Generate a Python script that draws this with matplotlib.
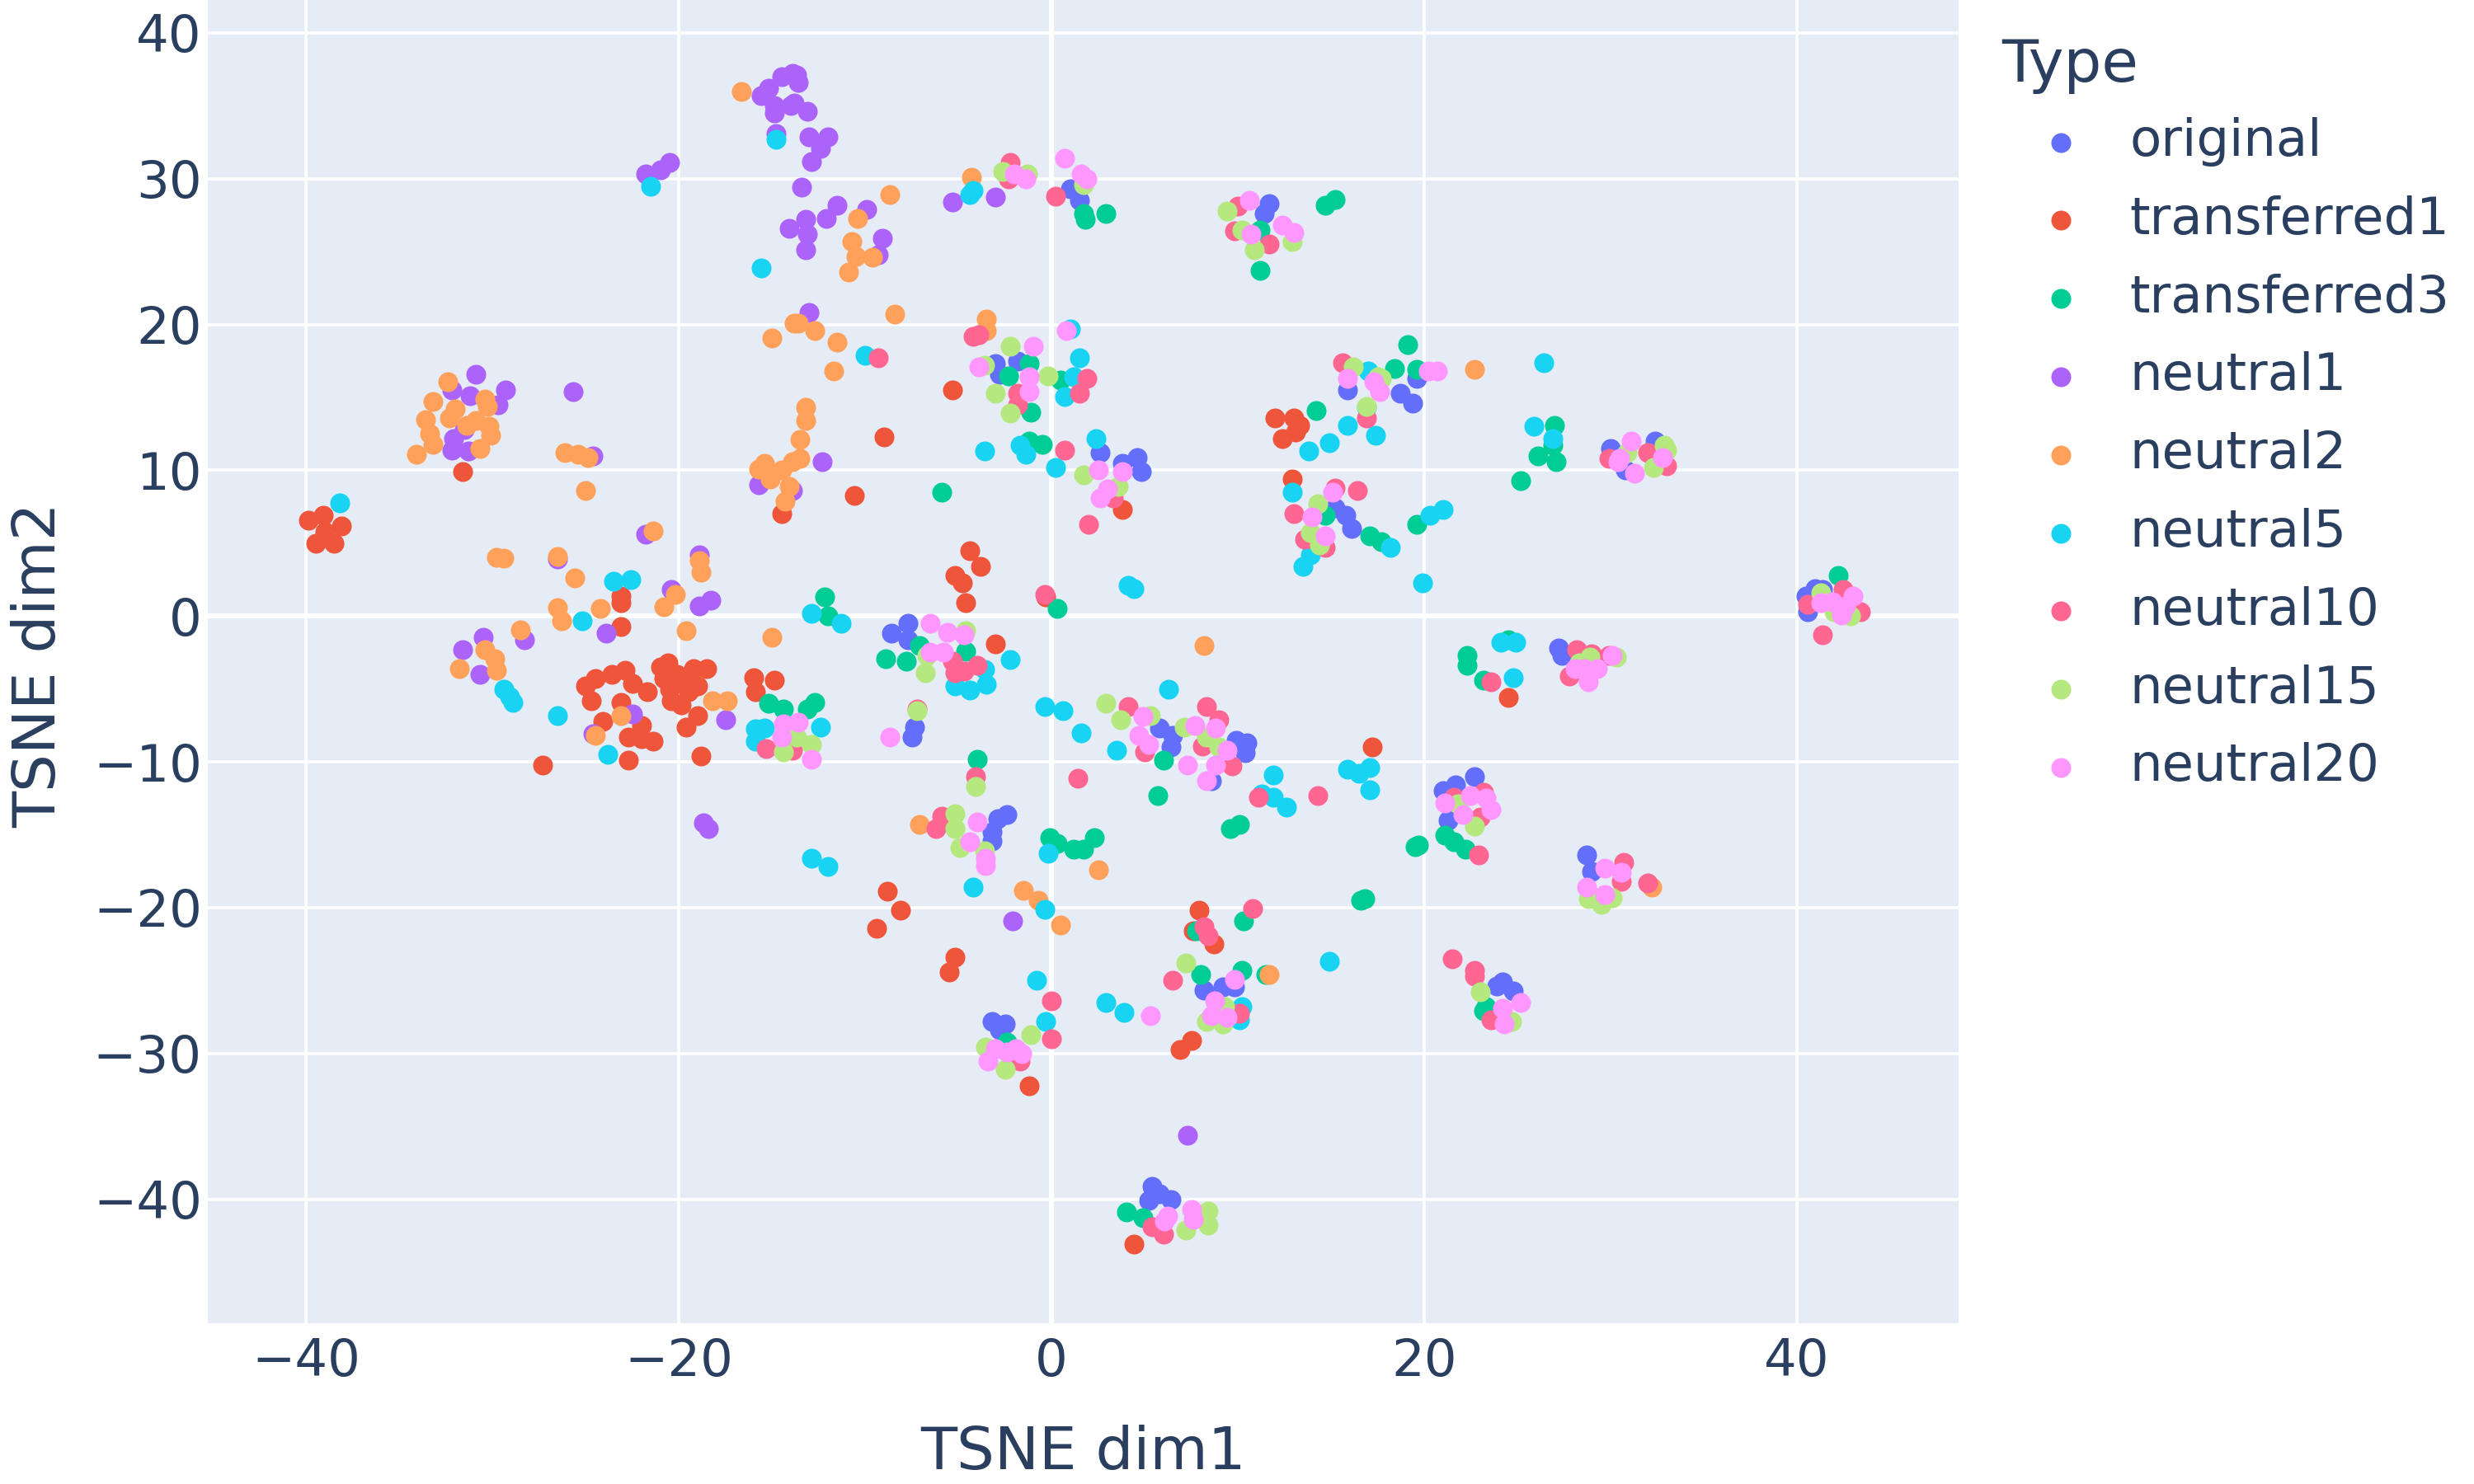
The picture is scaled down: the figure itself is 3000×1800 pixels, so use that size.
import matplotlib
matplotlib.use("Agg")
import matplotlib.pyplot as plt
import numpy as np

plt.rcParams['font.family'] = ['DejaVu Sans']

types = ["original", "transferred1", "transferred3", "neutral1", "neutral2",
         "neutral5", "neutral10", "neutral15", "neutral20"]
colors = ["#636EFA", "#EF553B", "#00CC96", "#AB63FA", "#FFA15A",
          "#19D3F3", "#FF6692", "#B6E880", "#FF97FF"]

original_pts = [
    (1.0, 29.3), (1.5, 28.5), (11.7, 28.3), (11.4, 27.6), (-3.0, 17.3), (-1.8, 17.5), (-2.8, 16.6),
    (15.9, 15.5), (2.6, 11.2), (3.8, 10.5), (4.6, 10.9), (4.8, 9.9), (19.6, 16.3), (18.7, 15.3),
    (19.4, 14.6), (30.0, 11.5), (32.4, 12.0), (30.8, 10.0), (15.2, 7.4), (15.8, 6.9), (16.1, 6.0),
    (-8.6, -1.2), (-7.7, -0.5), (-7.7, -1.6), (-7.35, -7.6), (-7.5, -8.3), (5.8, -7.7), (6.5, -8.2),
    (6.4, -9.0), (9.9, -8.5), (10.5, -8.7), (10.4, -9.4), (8.6, -11.3), (-2.9, -13.9), (-2.4, -13.6),
    (-3.2, -14.8), (-3.2, -15.4), (40.5, 1.4), (41.4, 1.8), (40.6, 0.3), (41.0, 1.9), (27.4, -2.7),
    (27.2, -2.2), (22.7, -11.0), (21.7, -11.6), (21.0, -12.0), (21.3, -14.0), (28.7, -16.4),
    (29.0, -17.5), (23.9, -25.4), (24.2, -25.1), (24.8, -25.7), (-3.2, -27.8), (-2.5, -28.0),
    (-2.8, -28.4), (8.2, -25.65), (9.2, -25.45), (9.8, -25.45), (5.4, -39.1), (6.4, -40.0),
    (5.2, -40.1), (5.8, -39.6),
]
transferred1_pts = [
    (-31.6, 9.9), (-39.9, 6.6), (-39.1, 6.9), (-38.1, 6.2), (-39.5, 5.0), (-38.5, 5.0), (-39.0, 5.8),
    (-23.1, 1.4), (-23.1, 0.9), (-23.1, -0.7), (-14.5, 7.0), (-25.0, -4.8), (-24.5, -4.3),
    (-23.6, -4.0), (-22.9, -3.7), (-22.5, -4.6), (-21.7, -5.2), (-24.7, -5.8), (-23.1, -5.9),
    (-20.6, -3.2), (-20.8, -4.3), (-20.1, -4.0), (-19.8, -4.6), (-19.2, -3.6), (-18.5, -3.6),
    (-19.0, -4.8), (-20.4, -5.8), (-19.9, -6.1), (-24.1, -7.2), (-22.0, -7.5), (-22.7, -8.3),
    (-21.4, -8.6), (-22.0, -8.4), (-19.0, -6.8), (-19.6, -7.6), (-22.7, -9.9), (-18.8, -9.6),
    (-27.3, -10.2), (-16.0, -4.2), (-15.9, -5.2), (-14.9, -4.4), (-21.0, -3.5), (-20.5, -5.0),
    (-19.5, -5.2), (-9.0, 12.3), (-5.3, 15.5), (12.0, 13.6), (13.0, 13.6), (13.3, 13.1),
    (12.4, 12.2), (13.1, 12.6), (-10.6, 8.3), (12.9, 9.4), (3.8, 7.3), (-4.4, 4.5), (-3.8, 3.4),
    (-5.2, 2.8), (-4.8, 2.3), (-4.6, 0.9), (-0.3, 1.3), (-3.0, -1.9), (17.2, -9.0), (-8.8, -18.9),
    (-8.1, -20.2), (24.5, -5.6), (-9.4, -21.4), (-5.2, -23.4), (-5.5, -24.4), (-1.2, -32.2),
    (7.9, -20.2), (7.6, -21.6), (8.7, -22.5), (7.5, -29.1), (6.9, -29.75), (4.4, -43.1),
]
transferred3_pts = [
    (1.7, 27.6), (1.8, 27.2), (2.9, 27.6), (11.2, 26.5), (11.2, 23.7), (14.7, 28.2), (15.2, 28.6),
    (-1.2, 17.3), (-2.3, 16.5), (0.5, 16.2), (-1.1, 14.0), (14.2, 14.1), (-1.2, 12.0), (-0.5, 11.8),
    (-5.9, 8.5), (14.7, 6.9), (17.1, 5.5), (17.7, 5.1), (0.3, 0.5), (-12.2, 1.3), (-12.0, 0.0),
    (-7.1, -2.0), (-4.6, -2.4), (-8.9, -2.9), (-7.8, -3.1), (-12.7, -5.9), (-13.1, -6.4),
    (6.0, -9.9), (5.7, -12.3), (-4.0, -9.8), (9.6, -14.6), (10.1, -14.3), (-0.1, -15.2),
    (0.3, -15.6), (1.2, -16.0), (1.7, -16.0), (2.3, -15.2), (16.8, -19.4), (16.6, -19.5),
    (-15.2, -6.0), (-14.4, -6.4), (19.1, 18.6), (18.4, 17.0), (19.6, 16.9), (27.0, 13.1),
    (26.9, 11.7), (26.1, 11.0), (27.1, 10.6), (25.2, 9.3), (19.6, 6.3), (42.2, 2.8), (24.5, -1.6),
    (22.3, -2.7), (22.3, -3.4), (23.2, -4.4), (21.1, -15.0), (21.6, -15.5), (22.2, -16.0),
    (19.5, -15.8), (19.7, -15.7), (23.3, -26.8), (23.2, -27.1), (7.8, -21.6), (10.3, -20.9),
    (8.0, -24.6), (10.2, -24.3), (11.5, -24.6), (-2.4, -29.2), (4.0, -40.9), (4.9, -41.25),
]
neutral1_pts = [
    (-15.6, 35.7), (-14.9, 35.0), (-14.5, 37.0), (-13.9, 37.2), (-14.0, 35.0), (-14.9, 34.5),
    (-15.2, 36.2), (-14.8, 33.1), (-21.8, 30.3), (-21.0, 30.6), (-20.5, 31.1), (-14.1, 26.6),
    (-30.9, 16.6), (-32.2, 15.5), (-31.2, 15.1), (-29.3, 15.5), (-29.7, 14.5), (-32.1, 12.2),
    (-32.2, 11.4), (-31.3, 11.3), (-31.5, 12.8), (-25.7, 15.4), (-24.6, 11.0), (-13.7, 37.1),
    (-13.6, 36.6), (-13.8, 35.2), (-13.1, 34.6), (-13.0, 32.9), (-12.0, 32.9), (-12.4, 32.1),
    (-12.9, 31.2), (-13.4, 29.4), (-11.5, 28.2), (-12.1, 27.3), (-13.2, 27.2), (-13.1, 26.2),
    (-13.2, 25.1), (-9.9, 27.9), (-9.1, 25.9), (-9.3, 24.8), (-5.3, 28.4), (-3.0, 28.75),
    (-13.0, 20.8), (-12.3, 10.6), (-15.7, 9.0), (-21.8, 5.6), (-26.5, 3.9), (-18.9, 4.2),
    (-20.4, 1.8), (-18.9, 0.7), (-18.3, 1.1), (-23.9, -1.2), (-30.5, -1.45), (-31.6, -2.3),
    (-30.7, -4.0), (-28.3, -1.6), (-22.5, -6.7), (-24.6, -8.1), (-17.5, -7.1), (-18.7, -14.2),
    (-18.4, -14.6), (-13.9, 8.6), (-2.1, -20.9), (7.3, -35.6),
]
neutral2_pts = [
    (-16.65, 36.0), (-13.8, 20.1), (-15.0, 19.1), (-32.4, 16.1), (-30.4, 14.9), (-33.2, 14.7),
    (-32.0, 14.2), (-30.3, 14.4), (-33.6, 13.5), (-32.3, 13.6), (-31.4, 13.1), (-30.9, 13.4),
    (-30.2, 13.0), (-33.4, 12.5), (-30.1, 12.4), (-33.2, 11.8), (-30.7, 11.5), (-34.1, 11.1),
    (-26.1, 11.2), (-25.4, 11.1), (-24.9, 10.9), (-25.0, 8.6), (-29.8, 4.05), (-29.4, 4.0),
    (-26.5, 4.1), (-25.6, 2.6), (-21.4, 5.85), (-18.9, 3.8), (-18.8, 3.0), (-20.2, 1.5),
    (-20.8, 0.65), (-26.5, 0.6), (-26.3, -0.35), (-24.2, 0.55), (-19.6, -1.0), (-15.0, -1.45),
    (-30.4, -2.3), (-29.9, -2.9), (-29.8, -3.7), (-31.8, -3.6), (-28.5, -0.95), (-23.1, -6.8),
    (-24.5, -8.2), (-18.2, -5.8), (-17.4, -5.8), (-15.7, 10.1), (-15.4, 10.5), (-14.5, 10.0),
    (-13.9, 10.6), (-15.1, 9.4), (-14.1, 8.9), (-14.3, 7.9), (-13.6, 20.1), (-12.7, 19.6),
    (-8.4, 20.7), (-11.5, 18.8), (-11.7, 16.8), (-13.2, 14.3), (-13.2, 13.4), (-13.5, 12.1),
    (-13.5, 10.8), (-8.7, 28.9), (-10.4, 27.3), (-10.7, 25.7), (-10.5, 24.7), (-9.6, 24.6),
    (-10.9, 23.6), (-4.3, 30.1), (-3.5, 20.4), (-3.5, 19.6), (22.7, 16.9), (8.2, -2.0),
    (-7.1, -14.3), (2.5, -17.4), (-1.5, -18.8), (-0.7, -19.5), (0.5, -21.2), (11.7, -24.6),
    (32.2, -18.6),
]
neutral5_pts = [
    (-14.8, 32.7), (-21.5, 29.5), (-15.6, 23.9), (-38.2, 7.75), (-23.5, 2.4), (-22.6, 2.5),
    (-25.2, -0.3), (-29.4, -5.0), (-29.1, -5.5), (-28.9, -5.9), (-26.5, -6.8), (-23.8, -9.5),
    (-15.9, -7.75), (-15.9, -8.6), (-15.4, -7.7), (-4.4, 28.9), (-4.2, 29.2), (-10.0, 17.9),
    (1.0, 19.7), (1.5, 17.7), (1.2, 16.4), (0.7, 15.05), (16.9, 14.3), (17.0, 16.8), (15.9, 13.1),
    (14.9, 11.9), (13.8, 11.3), (17.4, 12.4), (-3.6, 11.3), (-1.7, 11.7), (-1.4, 11.1),
    (2.4, 12.2), (26.4, 17.4), (25.9, 13.0), (26.9, 12.2), (0.2, 10.2), (12.9, 8.5), (13.9, 4.2),
    (13.5, 3.4), (4.1, 2.1), (4.4, 1.9), (-12.9, 0.2), (-11.3, -0.5), (-3.6, -3.65), (-5.2, -4.8),
    (-4.4, -5.1), (-3.5, -4.7), (-2.2, -3.0), (6.3, -5.0), (-12.4, -7.6), (-0.35, -6.2),
    (0.6, -6.5), (1.6, -8.0), (3.5, -9.2), (11.9, -10.9), (15.9, -10.5), (16.5, -10.8),
    (17.1, -10.4), (17.1, -11.9), (11.3, -12.2), (11.9, -12.4), (12.6, -13.1), (-0.2, -16.3),
    (-12.9, -16.6), (-12.0, -17.2), (-4.2, -18.6), (20.3, 6.9), (21.0, 7.3), (18.2, 4.7),
    (19.9, 2.3), (24.1, -1.8), (24.9, -1.8), (24.8, -4.2), (-0.35, -20.1), (-0.8, -25.0),
    (-0.3, -27.8), (2.9, -26.5), (3.9, -27.2), (14.9, -23.7), (10.2, -26.8), (10.1, -27.7),
]
neutral10_pts = [
    (-2.2, 31.1), (-2.3, 30.0), (0.2, 28.8), (10.0, 28.1), (9.8, 26.4), (11.7, 25.5), (-9.3, 17.7),
    (-4.2, 19.2), (-3.9, 19.3), (1.9, 16.3), (-1.8, 15.3), (1.5, 15.3), (-1.8, 14.5), (15.6, 17.4),
    (16.9, 13.6), (0.7, 11.4), (32.0, 11.2), (29.9, 10.8), (33.0, 10.3), (42.5, 1.8), (40.6, 0.8),
    (43.4, 0.3), (41.4, -1.3), (28.2, -2.3), (29.0, -2.6), (29.9, -2.7), (27.8, -4.1), (23.6, -4.5),
    (21.6, -12.4), (23.2, -12.1), (23.0, -13.8), (22.9, -16.4), (30.7, -16.9), (30.6, -18.2),
    (32.0, -18.3), (15.2, 8.8), (16.4, 8.6), (13.0, 7.0), (13.6, 5.3), (14.7, 4.7), (2.0, 6.3),
    (3.3, 8.1), (-0.35, 1.5), (-5.3, -3.1), (-4.0, -3.4), (-4.7, -3.75), (-5.2, -3.9), (4.1, -6.2),
    (5.0, -9.3), (8.3, -6.2), (9.0, -7.1), (8.1, -8.9), (9.7, -10.3), (1.4, -11.1), (11.1, -12.4),
    (14.3, -12.3), (-4.1, -11.0), (-7.2, -6.4), (-5.9, -13.7), (-6.2, -14.6), (10.8, -20.05),
    (-15.3, -9.1), (21.5, -23.5), (22.7, -24.3), (22.7, -24.7), (23.6, -27.7), (8.2, -21.3),
    (8.4, -21.9), (6.5, -25.0), (10.1, -27.25), (0.0, -26.4), (0.0, -29.0), (-1.7, -30.5),
    (5.4, -41.9), (6.0, -42.4), (-13.9, -9.2),
]
neutral15_pts = [
    (-2.6, 30.5), (-1.3, 30.3), (1.7, 29.6), (9.4, 27.8), (10.2, 26.5), (12.9, 25.7), (10.9, 25.1),
    (-2.2, 18.5), (-3.6, 17.2), (-0.2, 16.5), (-3.0, 15.3), (-2.2, 13.9), (16.2, 17.1),
    (16.9, 14.4), (17.5, 16.4), (17.7, 16.3), (32.9, 11.7), (30.9, 11.2), (32.3, 10.2),
    (33.0, 11.4), (41.3, 1.6), (42.0, 0.3), (42.9, 0.0), (28.9, -2.8), (30.3, -2.8), (28.3, -3.2),
    (21.8, -12.9), (22.7, -14.4), (29.2, -19.3), (30.1, -19.3), (28.8, -19.4), (29.5, -19.8),
    (23.0, -25.8), (24.7, -27.8), (1.7, 9.7), (3.6, 8.9), (14.3, 7.7), (13.9, 5.7), (14.4, 4.9),
    (-4.6, -1.0), (-6.7, -2.7), (-6.8, -3.9), (-7.2, -6.5), (-12.9, -8.8), (2.9, -6.0),
    (3.7, -7.1), (5.3, -6.8), (7.1, -7.6), (8.3, -8.3), (9.0, -9.0), (-4.1, -11.7),
    (-5.2, -13.55), (-5.2, -14.6), (-4.9, -15.9), (-3.6, -16.1), (-14.4, -9.3), (-13.7, -8.3),
    (-1.1, -28.7), (-3.55, -29.55), (-2.5, -31.1), (7.2, -23.8), (9.3, -26.8), (8.3, -27.8),
    (9.2, -28.0), (8.4, -40.8), (8.4, -41.8), (7.2, -42.1),
]
neutral20_pts = [
    (-2.0, 30.3), (-1.4, 30.0), (0.7, 31.4), (1.6, 30.3), (1.9, 30.0), (10.6, 28.5), (10.7, 26.2),
    (12.4, 26.8), (13.0, 26.3), (0.8, 19.6), (-1.0, 18.5), (-3.9, 17.1), (-1.2, 16.4),
    (-1.2, 15.4), (15.9, 16.3), (17.3, 16.1), (17.6, 15.4), (20.2, 16.8), (20.7, 16.8),
    (31.1, 12.0), (30.5, 10.8), (32.8, 10.9), (30.4, 10.6), (31.3, 9.8), (41.3, 0.9), (41.9, 1.0),
    (43.0, 1.4), (42.4, 0.1), (42.6, 0.7), (30.1, -2.7), (28.1, -3.6), (28.6, -3.6), (29.3, -3.6),
    (28.8, -4.5), (22.5, -12.3), (23.3, -12.5), (21.1, -12.8), (23.6, -13.3), (22.1, -13.6),
    (29.7, -17.3), (30.6, -17.6), (28.7, -18.6), (29.7, -19.1), (24.2, -26.9), (25.2, -26.5),
    (24.3, -28.0), (2.5, 10.0), (3.8, 9.9), (3.0, 8.7), (2.6, 8.1), (15.1, 8.5), (14.0, 6.8),
    (14.7, 5.5), (-6.5, -0.5), (-5.6, -1.1), (-4.7, -1.3), (-6.5, -2.5), (-5.8, -2.5),
    (-13.6, -7.3), (-12.9, -9.8), (-8.7, -8.3), (4.9, -6.9), (4.7, -8.2), (5.2, -8.8), (7.7, -7.5),
    (8.8, -7.7), (9.4, -9.2), (7.3, -10.2), (8.8, -10.2), (8.3, -11.3), (-4.0, -14.1),
    (-4.4, -15.5), (-3.55, -16.6), (-3.55, -17.1), (-14.4, -7.4), (-14.5, -8.3), (5.3, -27.4),
    (9.8, -24.9), (8.75, -26.4), (8.6, -27.4), (9.4, -27.5), (-3.0, -29.7), (-1.9, -29.65),
    (-2.4, -29.9), (-1.6, -30.0), (-3.4, -30.5), (6.25, -41.15), (6.05, -41.5), (7.5, -40.7),
    (7.6, -41.4),
]

series = [original_pts, transferred1_pts, transferred3_pts, neutral1_pts, neutral2_pts,
          neutral5_pts, neutral10_pts, neutral15_pts, neutral20_pts]

x_ticks = [-40, -20, 0, 20, 40]
y_ticks = [-40, -30, -20, -10, 0, 10, 20, 30, 40]

TEXT = "#2a3f5f"
fig = plt.figure(figsize=(30, 18), dpi=100)
ax = fig.add_axes([0.0839, 0.1084, 0.7079, 0.8916])
ax.set_facecolor("#E5ECF6")
for s in ax.spines.values():
    s.set_visible(False)

for name, col, pts in zip(types, colors, series):
    arr = np.array(pts)
    ax.scatter(arr[:, 0], arr[:, 1], s=300, color=col, linewidths=0, label=name, zorder=3)

ax.set_xlim(-45.3, 48.7)
ax.set_ylim(-48.5, 42.26)
ax.set_xticks(x_ticks)
ax.set_yticks(y_ticks)
ax.grid(True, color="white", linewidth=2.6)
ax.set_axisbelow(True)
ax.axhline(0, color="white", linewidth=4.4, zorder=1)
ax.axvline(0, color="white", linewidth=4.4, zorder=1)
ax.tick_params(axis="both", length=0, labelsize=45, labelcolor=TEXT)
ax.tick_params(axis="x", pad=12)
ax.tick_params(axis="y", pad=5)

fig.text(0.4377, 0.0206, "TSNE dim1", fontsize=52, color=TEXT, ha="center", va="center")
fig.text(0.016, 0.552, "TSNE dim2", fontsize=52, color=TEXT, ha="center", va="center",
         rotation=90)

fig.text(2427 / 3000, 1 - 99 / 1800, "Type", fontsize=52, color=TEXT, ha="left", va="baseline")
leg = ax.legend(loc="upper left", bbox_to_anchor=(2468 / 3000, 1 - 142 / 1800),
                bbox_transform=fig.transFigure, frameon=False, fontsize=45,
                handlelength=1.0, handletextpad=0.83, labelspacing=0.557,
                borderpad=0, borderaxespad=0, scatterpoints=1)
for t in leg.get_texts():
    t.set_color(TEXT)

fig.savefig("out.png", dpi=100, facecolor="white")
